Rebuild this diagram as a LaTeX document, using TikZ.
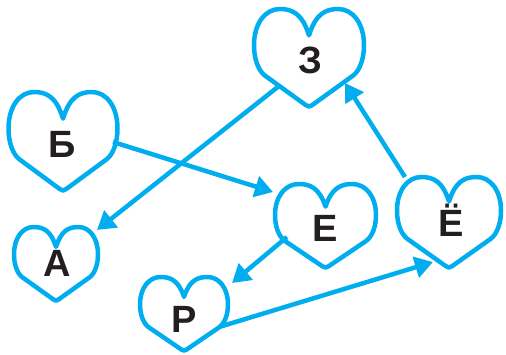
\documentclass[tikz,border=0pt]{standalone}
\usepackage{fontspec}
\setmainfont{Liberation Sans}
\usetikzlibrary{arrows.meta}
\definecolor{hblue}{HTML}{00AEEF}
\definecolor{ltext}{HTML}{231F20}
\tikzset{
  heartline/.style={draw=hblue, line width=4.5pt, line join=round},
  arrowline/.style={draw=hblue, line width=4.5pt, -{Triangle[length=18pt,width=21pt]}},
  letter/.style={font=\fontsize{38}{38}\selectfont\bfseries, text=ltext, anchor=base, inner sep=0pt},
  heartpic/.pic={
    \draw[heartline] (0,0.27) .. controls (0.12,0.05) and (0.3,0) .. (0.53,0)
      .. controls (0.8,0) and (1,0.15) .. (1,0.37)
      .. controls (1,0.5) and (0.93,0.625) .. (0.8,0.68)
      -- (0.06,0.98) .. controls (0.02,1.0) and (-0.02,1.0) .. (-0.06,0.98)
      -- (-0.8,0.68) .. controls (-0.93,0.625) and (-1,0.5) .. (-1,0.37)
      .. controls (-1,0.15) and (-0.8,0) .. (-0.53,0)
      .. controls (-0.3,0) and (-0.12,0.05) .. cycle;
  }
}
\begin{document}
\begin{tikzpicture}[x=1pt,y=-1pt]
\useasboundingbox[fill=white] (0,0) rectangle (506,355);
% hearts
\pic[xscale=55,yscale=98] at (309,9) {heartpic};
\pic[xscale=54.5,yscale=99] at (63,92) {heartpic};
\pic[xscale=42,yscale=74] at (56,227) {heartpic};
\pic[xscale=44,yscale=74] at (184,277) {heartpic};
\pic[xscale=50.5,yscale=84] at (325.5,184) {heartpic};
\pic[xscale=52,yscale=91] at (449,177) {heartpic};
% letters
\node[letter] (z) at (310,74) {З};
\node[letter] (b) at (62,158) {Б};
\node[letter] (a) at (57,277) {А};
\node[letter] (r) at (184,332) {Р};
\node[letter] (e) at (325,242) {Е};
\node[letter] (yo) at (451,237) {Ё};
% arrow ends
\coordinate (z-out) at (279,86);
\coordinate (a-in) at (97,230);
\coordinate (b-out) at (113,142);
\coordinate (e-in) at (273,192);
\coordinate (e-out) at (287,237);
\coordinate (r-in) at (232,283);
\coordinate (r-out) at (219,327);
\coordinate (yo-in) at (433,262);
\coordinate (yo-out) at (405,177);
\coordinate (z-in) at (345,83);
% arrows
\draw[arrowline] (z-out) -- (a-in);
\draw[arrowline] (b-out) -- (e-in);
\draw[arrowline] (e-out) -- (r-in);
\draw[arrowline] (r-out) -- (yo-in);
\draw[arrowline] (yo-out) -- (z-in);
\end{tikzpicture}
\end{document}
